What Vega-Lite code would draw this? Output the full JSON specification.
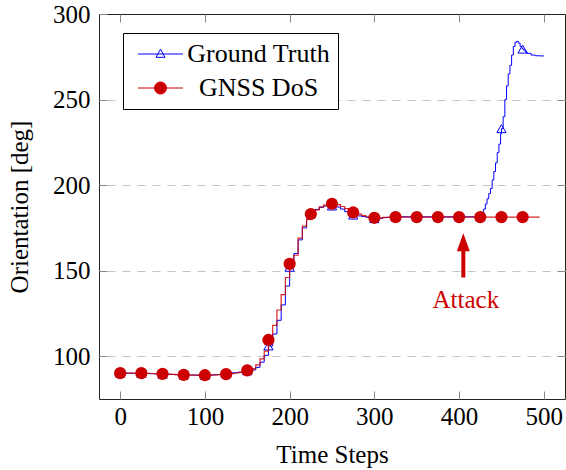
{
  "$schema": "https://vega.github.io/schema/vega-lite/v6.json",
  "width": 466,
  "height": 385,
  "autosize": {"type": "none"},
  "padding": {"left": 99, "top": 14, "right": 1, "bottom": 71},
  "background": "white",
  "config": {
    "font": "Liberation Serif",
    "view": {"stroke": "#222", "strokeWidth": 1},
    "axis": {
      "domain": false, "grid": false, "tickColor": "#888", "tickSize": -8, "tickWidth": 1,
      "labelColor": "black", "labelFont": "Liberation Serif", "labelFontSize": 25,
      "titleFont": "Liberation Serif", "titleFontSize": 25, "titleFontWeight": "normal", "titleColor": "black"
    }
  },
  "datasets": {
    "rows": [
      {"t":0,"v":90.1,"series":"Ground Truth"},{"t":5,"v":90.1,"series":"Ground Truth"},{"t":10,"v":90.1,"series":"Ground Truth"},{"t":15,"v":90.0,"series":"Ground Truth"},{"t":20,"v":90.0,"series":"Ground Truth"},{"t":25,"v":90.0,"series":"Ground Truth"},{"t":30,"v":89.9,"series":"Ground Truth"},{"t":35,"v":89.8,"series":"Ground Truth"},{"t":40,"v":89.7,"series":"Ground Truth"},{"t":45,"v":89.6,"series":"Ground Truth"},{"t":50,"v":89.5,"series":"Ground Truth"},{"t":55,"v":89.4,"series":"Ground Truth"},{"t":60,"v":89.3,"series":"Ground Truth"},{"t":65,"v":89.2,"series":"Ground Truth"},{"t":70,"v":89.1,"series":"Ground Truth"},{"t":75,"v":89.1,"series":"Ground Truth"},{"t":80,"v":89.0,"series":"Ground Truth"},{"t":85,"v":89.0,"series":"Ground Truth"},{"t":90,"v":88.9,"series":"Ground Truth"},{"t":95,"v":88.9,"series":"Ground Truth"},{"t":100,"v":88.9,"series":"Ground Truth"},{"t":105,"v":89.0,"series":"Ground Truth"},{"t":110,"v":89.1,"series":"Ground Truth"},{"t":115,"v":89.3,"series":"Ground Truth"},{"t":120,"v":89.8,"series":"Ground Truth"},{"t":125,"v":90.3,"series":"Ground Truth"},{"t":130,"v":90.3,"series":"Ground Truth"},{"t":135,"v":90.4,"series":"Ground Truth"},{"t":140,"v":90.7,"series":"Ground Truth"},{"t":145,"v":91.1,"series":"Ground Truth"},{"t":150,"v":91.5,"series":"Ground Truth"},{"t":155,"v":92.0,"series":"Ground Truth"},{"t":160,"v":93.5,"series":"Ground Truth"},{"t":165,"v":96.5,"series":"Ground Truth"},{"t":170,"v":100.5,"series":"Ground Truth"},{"t":175,"v":106,"series":"Ground Truth"},{"t":180,"v":113,"series":"Ground Truth"},{"t":185,"v":121,"series":"Ground Truth"},{"t":190,"v":130,"series":"Ground Truth"},{"t":195,"v":141,"series":"Ground Truth"},{"t":200,"v":152,"series":"Ground Truth"},{"t":205,"v":160,"series":"Ground Truth"},{"t":210,"v":168,"series":"Ground Truth"},{"t":215,"v":175,"series":"Ground Truth"},{"t":220,"v":180,"series":"Ground Truth"},{"t":225,"v":183.5,"series":"Ground Truth"},{"t":230,"v":185.8,"series":"Ground Truth"},{"t":235,"v":187,"series":"Ground Truth"},{"t":240,"v":187.8,"series":"Ground Truth"},{"t":245,"v":188,"series":"Ground Truth"},{"t":250,"v":187.8,"series":"Ground Truth"},{"t":255,"v":187.2,"series":"Ground Truth"},{"t":260,"v":186,"series":"Ground Truth"},{"t":265,"v":184.5,"series":"Ground Truth"},{"t":270,"v":183.2,"series":"Ground Truth"},{"t":275,"v":182.5,"series":"Ground Truth"},{"t":280,"v":182,"series":"Ground Truth"},{"t":285,"v":181.6,"series":"Ground Truth"},{"t":290,"v":181.2,"series":"Ground Truth"},{"t":295,"v":180.6,"series":"Ground Truth"},{"t":300,"v":180.4,"series":"Ground Truth"},{"t":305,"v":180.6,"series":"Ground Truth"},{"t":310,"v":181,"series":"Ground Truth"},{"t":315,"v":181.2,"series":"Ground Truth"},{"t":320,"v":181.4,"series":"Ground Truth"},{"t":325,"v":181.5,"series":"Ground Truth"},{"t":330,"v":181.5,"series":"Ground Truth"},{"t":335,"v":181.5,"series":"Ground Truth"},{"t":340,"v":181.5,"series":"Ground Truth"},{"t":345,"v":181.5,"series":"Ground Truth"},{"t":350,"v":181.5,"series":"Ground Truth"},{"t":355,"v":181.5,"series":"Ground Truth"},{"t":360,"v":181.5,"series":"Ground Truth"},{"t":365,"v":181.5,"series":"Ground Truth"},{"t":370,"v":181.5,"series":"Ground Truth"},{"t":375,"v":181.5,"series":"Ground Truth"},{"t":380,"v":181.5,"series":"Ground Truth"},{"t":385,"v":181.5,"series":"Ground Truth"},{"t":390,"v":181.5,"series":"Ground Truth"},{"t":395,"v":181.5,"series":"Ground Truth"},{"t":400,"v":181.5,"series":"Ground Truth"},{"t":405,"v":181.5,"series":"Ground Truth"},{"t":410,"v":181.5,"series":"Ground Truth"},{"t":415,"v":181.5,"series":"Ground Truth"},{"t":420,"v":181.5,"series":"Ground Truth"},{"t":425,"v":181.5,"series":"Ground Truth"},{"t":427,"v":184,"series":"Ground Truth"},{"t":429,"v":186,"series":"Ground Truth"},{"t":431,"v":189,"series":"Ground Truth"},{"t":433,"v":192,"series":"Ground Truth"},{"t":435,"v":195,"series":"Ground Truth"},{"t":437,"v":198,"series":"Ground Truth"},{"t":439,"v":203,"series":"Ground Truth"},{"t":441,"v":208,"series":"Ground Truth"},{"t":443,"v":213,"series":"Ground Truth"},{"t":445,"v":219,"series":"Ground Truth"},{"t":447,"v":224,"series":"Ground Truth"},{"t":449,"v":230,"series":"Ground Truth"},{"t":450,"v":233,"series":"Ground Truth"},{"t":452,"v":240,"series":"Ground Truth"},{"t":454,"v":250,"series":"Ground Truth"},{"t":456,"v":258,"series":"Ground Truth"},{"t":458,"v":265,"series":"Ground Truth"},{"t":460,"v":270,"series":"Ground Truth"},{"t":462,"v":276,"series":"Ground Truth"},{"t":464,"v":281,"series":"Ground Truth"},{"t":466,"v":283.5,"series":"Ground Truth"},{"t":468,"v":284,"series":"Ground Truth"},{"t":470,"v":283,"series":"Ground Truth"},{"t":472,"v":281,"series":"Ground Truth"},{"t":474,"v":280,"series":"Ground Truth"},{"t":475,"v":279.5,"series":"Ground Truth"},{"t":476,"v":279,"series":"Ground Truth"},{"t":478,"v":278,"series":"Ground Truth"},{"t":480,"v":277,"series":"Ground Truth"},{"t":485,"v":276,"series":"Ground Truth"},{"t":490,"v":275.6,"series":"Ground Truth"},{"t":495,"v":275.5,"series":"Ground Truth"},{"t":500,"v":275.6,"series":"Ground Truth"},
      {"t":0,"v":90.1,"series":"GNSS DoS"},{"t":5,"v":90.1,"series":"GNSS DoS"},{"t":10,"v":90.1,"series":"GNSS DoS"},{"t":15,"v":90.1,"series":"GNSS DoS"},{"t":20,"v":90.1,"series":"GNSS DoS"},{"t":25,"v":90.1,"series":"GNSS DoS"},{"t":30,"v":90.0,"series":"GNSS DoS"},{"t":35,"v":89.9,"series":"GNSS DoS"},{"t":40,"v":89.8,"series":"GNSS DoS"},{"t":45,"v":89.7,"series":"GNSS DoS"},{"t":50,"v":89.7,"series":"GNSS DoS"},{"t":55,"v":89.5,"series":"GNSS DoS"},{"t":60,"v":89.4,"series":"GNSS DoS"},{"t":65,"v":89.3,"series":"GNSS DoS"},{"t":70,"v":89.2,"series":"GNSS DoS"},{"t":75,"v":89.1,"series":"GNSS DoS"},{"t":80,"v":89.0,"series":"GNSS DoS"},{"t":85,"v":89.0,"series":"GNSS DoS"},{"t":90,"v":88.9,"series":"GNSS DoS"},{"t":95,"v":88.9,"series":"GNSS DoS"},{"t":100,"v":88.9,"series":"GNSS DoS"},{"t":105,"v":89.0,"series":"GNSS DoS"},{"t":110,"v":89.1,"series":"GNSS DoS"},{"t":115,"v":89.2,"series":"GNSS DoS"},{"t":120,"v":89.3,"series":"GNSS DoS"},{"t":125,"v":89.5,"series":"GNSS DoS"},{"t":130,"v":89.8,"series":"GNSS DoS"},{"t":135,"v":90.2,"series":"GNSS DoS"},{"t":140,"v":90.6,"series":"GNSS DoS"},{"t":145,"v":91.1,"series":"GNSS DoS"},{"t":150,"v":91.7,"series":"GNSS DoS"},{"t":155,"v":92.8,"series":"GNSS DoS"},{"t":160,"v":95,"series":"GNSS DoS"},{"t":165,"v":98.5,"series":"GNSS DoS"},{"t":170,"v":103,"series":"GNSS DoS"},{"t":175,"v":109.5,"series":"GNSS DoS"},{"t":180,"v":118,"series":"GNSS DoS"},{"t":185,"v":127,"series":"GNSS DoS"},{"t":190,"v":136,"series":"GNSS DoS"},{"t":195,"v":146,"series":"GNSS DoS"},{"t":200,"v":154,"series":"GNSS DoS"},{"t":205,"v":159,"series":"GNSS DoS"},{"t":210,"v":169,"series":"GNSS DoS"},{"t":215,"v":176,"series":"GNSS DoS"},{"t":220,"v":180,"series":"GNSS DoS"},{"t":225,"v":183.1,"series":"GNSS DoS"},{"t":230,"v":185.5,"series":"GNSS DoS"},{"t":235,"v":187.3,"series":"GNSS DoS"},{"t":240,"v":188.3,"series":"GNSS DoS"},{"t":245,"v":188.9,"series":"GNSS DoS"},{"t":250,"v":189.1,"series":"GNSS DoS"},{"t":255,"v":188.6,"series":"GNSS DoS"},{"t":260,"v":187.5,"series":"GNSS DoS"},{"t":265,"v":186.3,"series":"GNSS DoS"},{"t":270,"v":185,"series":"GNSS DoS"},{"t":275,"v":184,"series":"GNSS DoS"},{"t":280,"v":183,"series":"GNSS DoS"},{"t":285,"v":182.2,"series":"GNSS DoS"},{"t":290,"v":181.5,"series":"GNSS DoS"},{"t":295,"v":181.1,"series":"GNSS DoS"},{"t":300,"v":180.9,"series":"GNSS DoS"},{"t":305,"v":180.9,"series":"GNSS DoS"},{"t":310,"v":181.1,"series":"GNSS DoS"},{"t":315,"v":181.2,"series":"GNSS DoS"},{"t":320,"v":181.3,"series":"GNSS DoS"},{"t":325,"v":181.3,"series":"GNSS DoS"},{"t":330,"v":181.3,"series":"GNSS DoS"},{"t":335,"v":181.3,"series":"GNSS DoS"},{"t":340,"v":181.3,"series":"GNSS DoS"},{"t":345,"v":181.3,"series":"GNSS DoS"},{"t":350,"v":181.3,"series":"GNSS DoS"},{"t":355,"v":181.3,"series":"GNSS DoS"},{"t":360,"v":181.3,"series":"GNSS DoS"},{"t":365,"v":181.3,"series":"GNSS DoS"},{"t":370,"v":181.3,"series":"GNSS DoS"},{"t":375,"v":181.3,"series":"GNSS DoS"},{"t":380,"v":181.3,"series":"GNSS DoS"},{"t":385,"v":181.3,"series":"GNSS DoS"},{"t":390,"v":181.3,"series":"GNSS DoS"},{"t":395,"v":181.3,"series":"GNSS DoS"},{"t":400,"v":181.3,"series":"GNSS DoS"},{"t":405,"v":181.3,"series":"GNSS DoS"},{"t":410,"v":181.3,"series":"GNSS DoS"},{"t":415,"v":181.3,"series":"GNSS DoS"},{"t":420,"v":181.3,"series":"GNSS DoS"},{"t":425,"v":181.3,"series":"GNSS DoS"},{"t":430,"v":181.3,"series":"GNSS DoS"},{"t":435,"v":181.3,"series":"GNSS DoS"},{"t":440,"v":181.3,"series":"GNSS DoS"},{"t":445,"v":181.3,"series":"GNSS DoS"},{"t":450,"v":181.3,"series":"GNSS DoS"},{"t":455,"v":181.3,"series":"GNSS DoS"},{"t":460,"v":181.3,"series":"GNSS DoS"},{"t":465,"v":181.3,"series":"GNSS DoS"},{"t":470,"v":181.3,"series":"GNSS DoS"},{"t":475,"v":181.3,"series":"GNSS DoS"},{"t":480,"v":181.3,"series":"GNSS DoS"},{"t":485,"v":181.3,"series":"GNSS DoS"},{"t":490,"v":181.3,"series":"GNSS DoS"},{"t":495,"v":181.3,"series":"GNSS DoS"}
    ]
  },
  "data": {"name": "rows"},
  "layer": [
    {
      "transform": [{"filter": "datum.series == 'Ground Truth'"}],
      "mark": {"type": "line", "interpolate": "step-after", "strokeWidth": 1},
      "encoding": {
        "x": {"field": "t", "type": "quantitative", "scale": {"domain": [-25, 525], "nice": false, "zero": false},
          "axis": {"orient": "bottom", "values": [0, 100, 200, 300, 400, 500], "labelPadding": 13, "title": "Time Steps", "titlePadding": 13}},
        "y": {"field": "v", "type": "quantitative", "scale": {"domain": [75, 300], "nice": false, "zero": false},
          "axis": {"orient": "left", "values": [100, 150, 200, 250, 300], "labelPadding": 17, "title": "Orientation [deg]", "titlePadding": 20}},
        "color": {"field": "series", "type": "nominal",
          "scale": {"domain": ["Ground Truth", "GNSS DoS"], "range": ["#0000ff", "#cc0000"]},
          "legend": {
            "orient": "none", "legendX": 24, "legendY": 19, "title": null,
            "labelFont": "Liberation Serif", "labelFontSize": 26, "labelColor": "black",
            "labelAlign": "center", "labelOffset": 101.5, "labelLimit": 400,
            "symbolSize": 144, "symbolStrokeWidth": 1,
            "padding": 8, "rowPadding": 8, "strokeColor": "black", "fillColor": "white",
            "encode": {
              "symbols": {
                "update": {
                  "shape": {"signal": "datum.value == 'Ground Truth' ? 'M-1,0L6.5,0M2.75,-0.8L2,0.55L3.5,0.55Z' : 'M-1,0L6.5,0M1.75,0A1,1 0 1,1 3.75,0A1,1 0 1,1 1.75,0Z'"},
                  "fill": {"signal": "datum.value == 'Ground Truth' ? 'transparent' : '#cc0000'"},
                  "stroke": {"signal": "datum.value == 'Ground Truth' ? '#0000ff' : '#cc0000'"},
                  "strokeWidth": {"value": 1},
                  "size": {"value": 144},
                  "opacity": {"value": 1}
                }
              }
            }
          }}
      }
    },
    {
      "transform": [{"filter": "datum.series == 'Ground Truth'"}],
      "mark": {"type": "point", "opacity": 0},
      "encoding": {
        "x": {"field": "t", "type": "quantitative", "scale": {"domain": [-25, 525], "nice": false, "zero": false},
          "axis": {"orient": "top", "values": [0, 100, 200, 300, 400, 500], "labels": false, "title": null}},
        "y": {"field": "v", "type": "quantitative", "scale": {"domain": [75, 300], "nice": false, "zero": false},
          "axis": {"orient": "right", "values": [100, 150, 200, 250], "labels": false, "title": null,
            "grid": true, "gridDash": [8, 7], "gridWidth": 1, "gridColor": "#c4c4c4"}}
      }
    },
    {
      "transform": [{"filter": "datum.series == 'Ground Truth' && datum.t % 25 == 0 && datum.t < 500"}],
      "mark": {"type": "point", "shape": "triangle-up", "filled": false, "color": "#0000ff", "size": 85, "strokeWidth": 1, "opacity": 1},
      "encoding": {
        "x": {"field": "t", "type": "quantitative", "axis": null},
        "y": {"field": "v", "type": "quantitative", "axis": null}
      }
    },
    {
      "transform": [{"filter": "datum.series == 'GNSS DoS'"}],
      "mark": {"type": "line", "interpolate": "step-after", "strokeWidth": 1.2, "color": "#cc0000", "opacity": 0.85},
      "encoding": {
        "x": {"field": "t", "type": "quantitative", "axis": null},
        "y": {"field": "v", "type": "quantitative", "axis": null}
      }
    },
    {
      "transform": [{"filter": "datum.series == 'GNSS DoS' && datum.t % 25 == 0"}],
      "mark": {"type": "point", "shape": "circle", "filled": true, "color": "#cc0000", "size": 150, "strokeWidth": 0, "opacity": 1},
      "encoding": {
        "x": {"field": "t", "type": "quantitative", "axis": null},
        "y": {"field": "v", "type": "quantitative", "axis": null}
      }
    },
    {
      "data": {"values": [{}]},
      "mark": {"type": "rule", "color": "#cc0000", "strokeWidth": 4},
      "encoding": {
        "x": {"datum": 405, "type": "quantitative", "axis": null},
        "y": {"datum": 146, "type": "quantitative", "axis": null},
        "y2": {"datum": 162}
      }
    },
    {
      "data": {"values": [{}]},
      "mark": {"type": "point", "shape": "M0,-1L-0.72,1L0.72,1Z", "filled": true, "color": "#cc0000", "size": 324, "strokeWidth": 0, "opacity": 1},
      "encoding": {
        "x": {"datum": 405, "type": "quantitative", "axis": null},
        "y": {"datum": 166.65, "type": "quantitative", "axis": null}
      }
    },
    {
      "data": {"values": [{}]},
      "mark": {"type": "text", "text": "Attack", "font": "Liberation Serif", "fontSize": 25, "color": "#cc0000", "align": "center", "baseline": "alphabetic"},
      "encoding": {
        "x": {"datum": 408, "type": "quantitative", "axis": null},
        "y": {"datum": 128.3, "type": "quantitative", "axis": null}
      }
    }
  ],
  "resolve": {"axis": {"x": "independent", "y": "independent"}}
}
